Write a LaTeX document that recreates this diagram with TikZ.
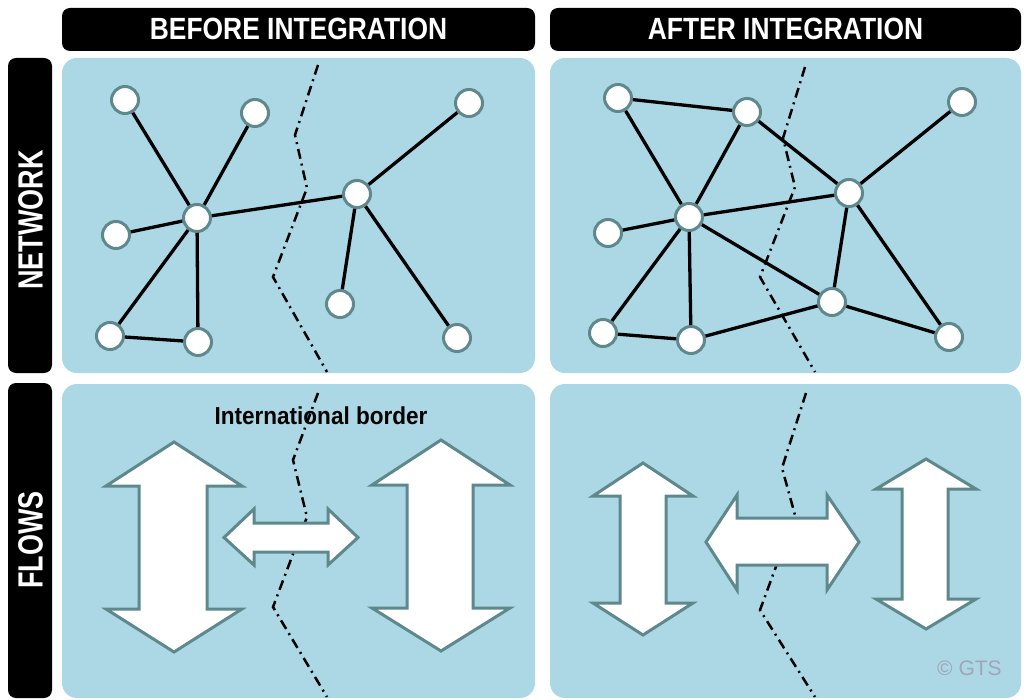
\documentclass[tikz,border=0pt]{standalone}
\usepackage{fontspec}
\setmainfont{Liberation Sans}
\newfontfamily\hdrfont[FakeStretch=0.86]{Liberation Sans}
\newfontfamily\sidefont[FakeStretch=0.77]{Liberation Sans}
\newfontfamily\lblfont[FakeStretch=0.92]{Liberation Sans}
\definecolor{panelblue}{RGB}{171,216,228}
\definecolor{tealgray}{RGB}{94,136,139}
\definecolor{copygray}{RGB}{160,165,185}
\tikzset{
  panel/.style={fill=panelblue, draw=none, rounded corners=15pt},
  bar/.style={fill=black, draw=none, rounded corners=8pt},
  hdr/.style={text=white, font=\hdrfont\bfseries\fontsize{30.7}{32}\selectfont, inner sep=0pt},
  side/.style={text=white, font=\sidefont\bfseries\fontsize{35}{36}\selectfont, inner sep=0pt, rotate=90},
  nd/.style={circle, fill=white, draw=tealgray, line width=3pt, minimum size=27pt, inner sep=0pt},
  edge/.style={draw=black, line width=3.3pt},
  borderline/.style={draw=black, line width=2.5pt, dash pattern=on 10pt off 5pt on 2pt off 5pt},
  flow/.style={fill=white, draw=tealgray, line width=3pt, line join=miter}
}
\begin{document}
\begin{tikzpicture}[x=1pt, y=-1pt]
\useasboundingbox (0,0) rectangle (1024,700);
% headers
\fill[bar] (62,8) rectangle (535,51);
\fill[bar] (550,8) rectangle (1021,51);
\node[hdr] (h1) at (298.5,29) {BEFORE INTEGRATION};
\node[hdr] (h2) at (785.5,29) {AFTER INTEGRATION};
% side bars
\fill[bar] (8,58) rectangle (52,373);
\fill[bar] (8,383) rectangle (52,698);
\node[side] (s1) at (30.5,220) {NETWORK};
\node[side] (s2) at (30.5,540) {FLOWS};
% panels
\fill[panel] (62,58) rectangle (535,373);
\fill[panel] (550,58) rectangle (1021,373);
\fill[panel] (62,384) rectangle (535,698);
\fill[panel] (550,384) rectangle (1021,698);
% borders (top)
\draw[borderline] (318,65) -- (295,135) -- (307,188) -- (273,277) -- (327,372);
\draw[borderline] (805,67) -- (783,138) -- (795,187) -- (760,277) -- (815,372);
% ---------- network before ----------
\node[nd] (a1) at (125,100) {};
\node[nd] (b1) at (255,113) {};
\node[nd] (c1) at (469,103) {};
\node[nd] (k1) at (197,218) {};
\node[nd] (d1) at (116,235) {};
\node[nd] (m1) at (357,194) {};
\node[nd] (e1) at (340,304) {};
\node[nd] (f1) at (110,336) {};
\node[nd] (g1) at (198,342) {};
\node[nd] (i1) at (457,338) {};
\draw[edge] (a1) -- (k1);
\draw[edge] (b1) -- (k1);
\draw[edge] (d1) -- (k1);
\draw[edge] (f1) -- (k1);
\draw[edge] (g1) -- (k1);
\draw[edge] (f1) -- (g1);
\draw[edge] (k1) -- (m1);
\draw[edge] (m1) -- (c1);
\draw[edge] (m1) -- (e1);
\draw[edge] (m1) -- (i1);
% ---------- network after ----------
\node[nd] (a2) at (618,98) {};
\node[nd] (b2) at (747,112) {};
\node[nd] (c2) at (962,102) {};
\node[nd] (k2) at (689,217) {};
\node[nd] (d2) at (608,233) {};
\node[nd] (m2) at (849,193) {};
\node[nd] (e2) at (832,302) {};
\node[nd] (f2) at (603,333) {};
\node[nd] (g2) at (691,340) {};
\node[nd] (i2) at (949,337) {};
\draw[edge] (a2) -- (b2);
\draw[edge] (a2) -- (k2);
\draw[edge] (b2) -- (k2);
\draw[edge] (b2) -- (m2);
\draw[edge] (m2) -- (c2);
\draw[edge] (k2) -- (m2);
\draw[edge] (k2) -- (d2);
\draw[edge] (k2) -- (f2);
\draw[edge] (k2) -- (g2);
\draw[edge] (k2) -- (e2);
\draw[edge] (f2) -- (g2);
\draw[edge] (g2) -- (e2);
\draw[edge] (e2) -- (m2);
\draw[edge] (e2) -- (i2);
\draw[edge] (m2) -- (i2);
% ---------- flows before ----------
\node[font=\lblfont\bfseries\fontsize{24.5}{26}\selectfont, anchor=base, inner sep=0pt] (lbl) at (321,424) {International border};
\draw[borderline] (318,393) -- (293,460) -- (307,517) -- (273,607) -- (327,697);
\draw[flow] (174,442) -- (242,486) -- (207,486) -- (207,609) -- (242,609) -- (174,652) -- (106,609) -- (139,609) -- (139,486) -- (106,486) -- cycle;
\draw[flow] (441,440) -- (510,485) -- (473,485) -- (473,608) -- (510,608) -- (441,651) -- (372,608) -- (407,608) -- (407,485) -- (372,485) -- cycle;
\draw[flow] (224,537.5) -- (254,509) -- (254,523) -- (328,523) -- (328,509) -- (358,537.5) -- (328,565) -- (328,552) -- (254,552) -- (254,565) -- cycle;
% ---------- flows after ----------
\draw[borderline] (806,393) -- (782,468) -- (795,515) -- (760,610) -- (815,697);
\draw[flow] (643,463) -- (693,496) -- (666,496) -- (666,603) -- (693,603) -- (643,635) -- (593,603) -- (620,603) -- (620,496) -- (593,496) -- cycle;
\draw[flow] (926,459) -- (976,489) -- (948,489) -- (948,599) -- (976,599) -- (926,629) -- (876,599) -- (902,599) -- (902,489) -- (876,489) -- cycle;
\draw[flow] (706,542) -- (737,495) -- (737,518) -- (827,518) -- (827,495) -- (859,542) -- (827,590) -- (827,565) -- (737,565) -- (737,590) -- cycle;
\node[text=copygray, font=\fontsize{21}{23}\selectfont, anchor=base west, inner sep=0pt] (cp) at (937,675) {© GTS};
\end{tikzpicture}
\end{document}
